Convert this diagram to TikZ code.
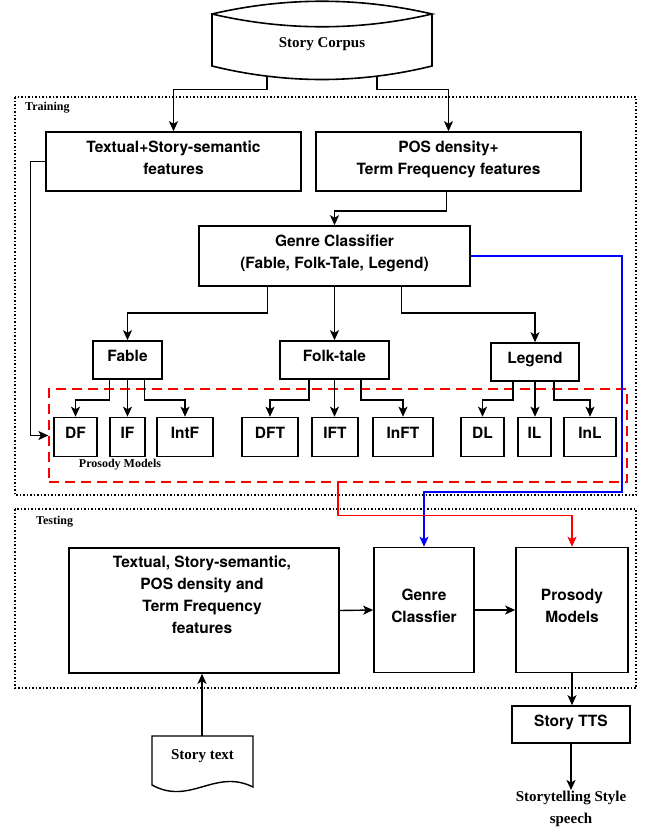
\documentclass[tikz,border=0pt]{standalone}
\usepackage{fontspec}
\setmainfont{Liberation Serif}
\setsansfont{TeX Gyre Heros}
\usetikzlibrary{arrows.meta}

\tikzset{
  box/.style={draw, line width=1.6pt, align=center, inner sep=2pt, text depth=8pt,
    font=\sffamily\bfseries\fontsize{15.5}{22}\selectfont},
  conn/.style={line width=1.4pt, -{Stealth[length=10pt,width=9pt,inset=2.5pt]}},
  stage/.style={dotted, line width=1.5pt},
  stagelabel/.style={font=\bfseries\fontsize{12}{14}\selectfont, anchor=west, inner sep=1pt},
  serif/.style={font=\bfseries\fontsize{15}{22}\selectfont, align=center, inner sep=1pt},
  modelgroup/.style={draw=red, dash pattern=on 10pt off 6pt, line width=1.3pt},
}

\begin{document}
\begin{tikzpicture}[x=1pt,y=-1pt]
\useasboundingbox (0,0) rectangle (646,828);

% Story Corpus
\draw[line width=1.6pt] (212,14) .. controls (285,-3) and (359,-3) .. (432,14)
  .. controls (359,31) and (285,31) .. (212,14) -- (212,66)
  .. controls (285,84) and (359,84) .. (432,66) -- (432,14);
\node[serif, minimum width=220, minimum height=65] (corpus) at (322,44.5) {Story Corpus};

% Training
\draw[stage] (15,97) rectangle (636,495);
\node[stagelabel] (training) at (24,108) {Training};

% features
\node[box, minimum width=255, minimum height=59] (textual) at (173.5,161.5)
  {Textual+Story-semantic\\features};
\node[box, minimum width=265, minimum height=59] (pos) at (448.5,161.5)
  {POS density+\\Term Frequency features};
\draw[conn] ([xshift=-55pt]corpus.south) -- ++(0,12) -| (textual.north);
\draw[conn] ([xshift=55pt]corpus.south) -- ++(0,12) -| (pos.north);

% Genre Classifier
\node[box, minimum width=271, minimum height=60] (gc) at (334.5,256)
  {Genre Classifier\\(Fable, Folk-Tale, Legend)};
\draw[conn] ([xshift=-2pt]pos.south) -- ++(0,19) -| (gc.north);

% genres
\node[box, minimum width=69, minimum height=38] (fable) at (127.5,360) {Fable};
\node[box, minimum width=109, minimum height=38] (folk) at (334.5,360) {Folk-tale};
\node[box, minimum width=88, minimum height=38] (legend) at (535,362) {Legend};
\draw[conn] ([xshift=-67pt]gc.south) -- ++(0,26) -| (fable.north);
\draw[conn] (gc.south) -- (folk.north);
\draw[conn] ([xshift=67pt]gc.south) -- ++(0,26) -| (legend.north);

% Prosody Models
\node[modelgroup, minimum width=578, minimum height=93] (prosody) at (338,435.5) {};
\node[stagelabel, anchor=center] (pmlabel) at (120,465) {Prosody Models};

\node[box, minimum width=43, minimum height=39] (dfab) at (75.5,437) {DF};
\node[box, minimum width=35, minimum height=39] (ifab) at (127.5,437) {IF};
\node[box, minimum width=56, minimum height=39] (intf) at (185,437) {IntF};
\node[box, minimum width=56, minimum height=39] (dft) at (270,437) {DFT};
\node[box, minimum width=46, minimum height=39] (ift) at (335,437) {IFT};
\node[box, minimum width=60, minimum height=39] (inft) at (403,437) {InFT};
\node[box, minimum width=43, minimum height=39] (dl) at (482.5,437) {DL};
\node[box, minimum width=33, minimum height=39] (il) at (534.5,437) {IL};
\node[box, minimum width=52, minimum height=39] (inl) at (590,437) {InL};

\draw[conn] ([xshift=-18pt]fable.south) -- ++(0,20) -| (dfab.north);
\draw[conn] (fable.south) -- (ifab.north);
\draw[conn] ([xshift=17pt]fable.south) -- ++(0,20) -| (intf.north);

\draw[conn] ([xshift=-25.5pt]folk.south) -- ++(0,20) -| (dft.north);
\draw[conn] (folk.south) -- (folk.south |- ift.north);
\draw[conn] ([xshift=26.5pt]folk.south) -- ++(0,20) -| (inft.north);

\draw[conn] ([xshift=-22pt]legend.south) -- ++(0,18) -| (dl.north);
\draw[conn] (legend.south) -- (legend.south |- il.north);
\draw[conn] ([xshift=19pt]legend.south) -- ++(0,18) -| (inl.north);

\draw[conn] (textual.west) -- ++(-15,0) |- (prosody.west);

% Testing
\draw[stage] (15,509) rectangle (636,688);
\node[stagelabel] (testing) at (35,522) {Testing};

\node[box, minimum width=270, minimum height=125] (feat) at (204,610.5) {};
\node[box, draw=none] (feattext) at (202,599)
  {Textual, Story-semantic,\\POS density and\\Term Frequency\\features};
\node[box, minimum width=100, minimum height=125] (gct) at (424,610) {Genre\\Classfier};
\node[box, minimum width=112, minimum height=125] (pm) at (572,610) {Prosody\\Models};
\draw[conn] (feat.east) -- (gct.west);
\draw[conn] (gct.east) -- (pm.west);

% trained models into testing
\coordinate (bluecorner) at (622,492);
\draw[conn, blue] (gc.east) -| (bluecorner) -| (gct.north);
\draw[conn, red] (prosody.south) -- ++(0,33) -| (pm.north);

% Story TTS
\node[box, minimum width=118, minimum height=37] (tts) at (571,724.5) {Story TTS};
\draw[conn] (pm.south) -- (pm.south |- tts.north);
\node[serif, anchor=north] (speech) at (571,790) {Storytelling Style\\speech};
\draw[conn] (tts.south) -- (speech.north);

% Story text
\draw[line width=1.4pt] (152,736) -- (253,736) -- (253,787)
  .. controls (215,768) and (190,806) .. (152,785) -- cycle;
\node[serif] (storytext) at (202.5,756) {Story text};
\coordinate (doctop) at (202,736);
\draw[conn] (doctop) -- (doctop |- feat.south);

\end{tikzpicture}
\end{document}
